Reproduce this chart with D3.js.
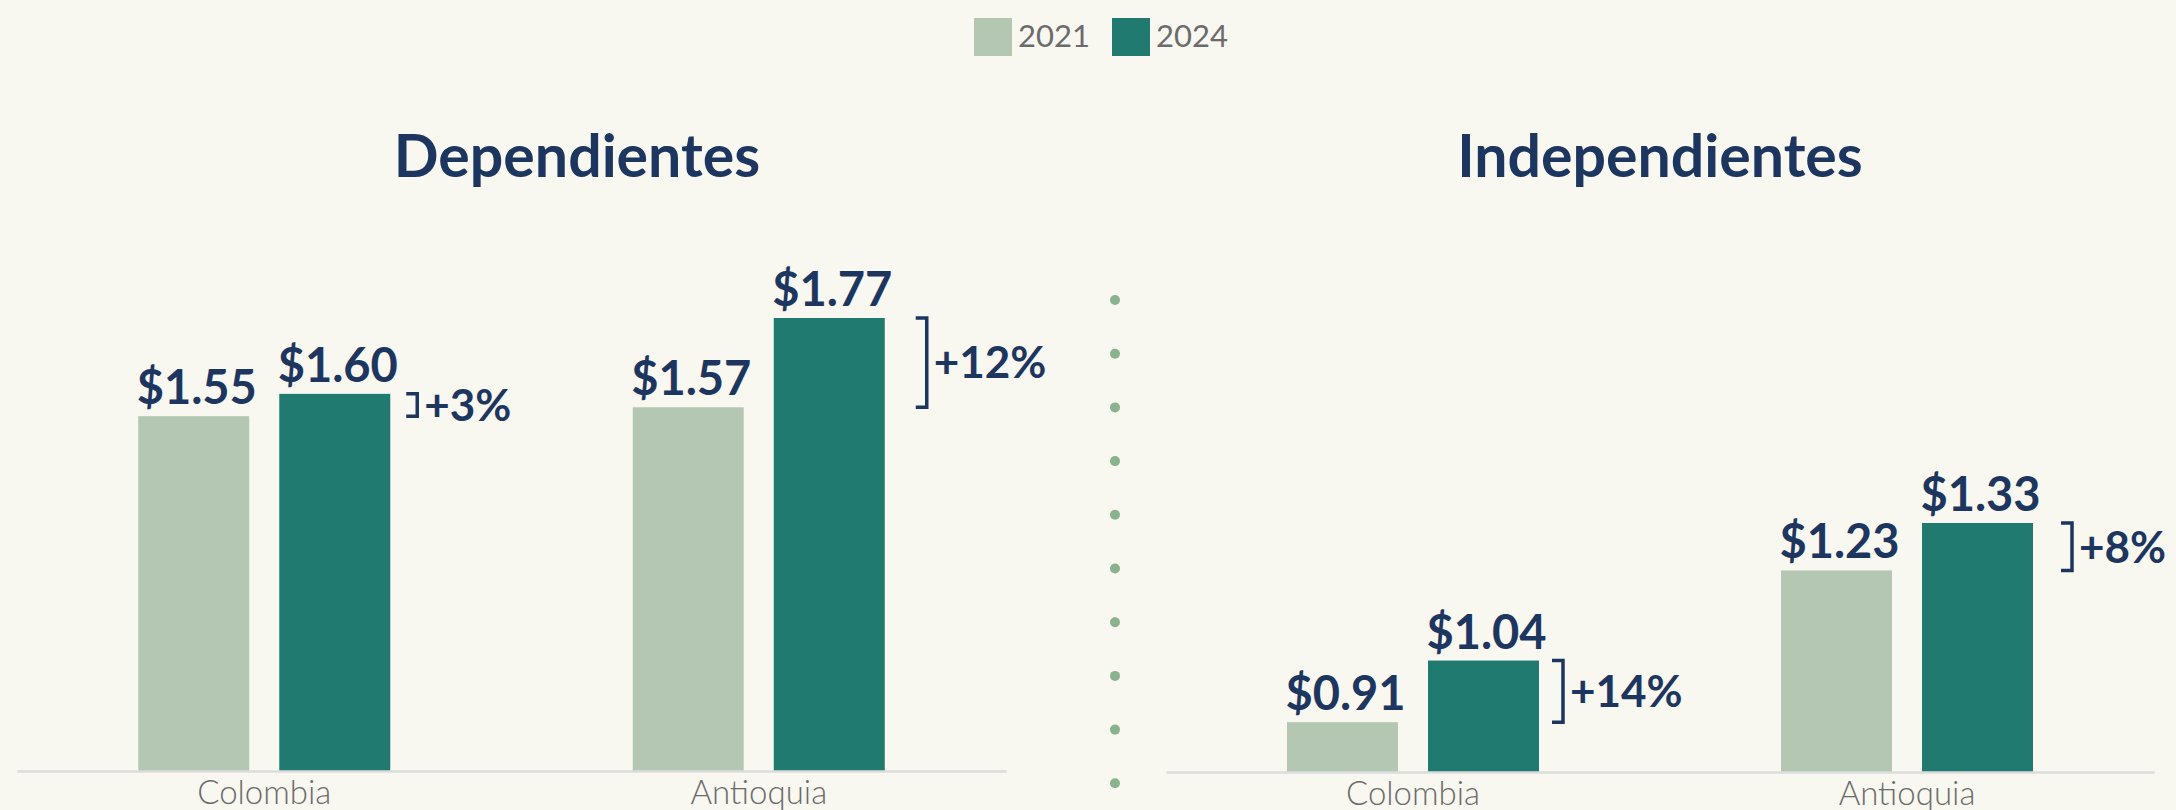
<!DOCTYPE html>
<meta charset="utf-8">
<script src="https://d3js.org/d3.v7.min.js"></script>
<style>
  body { margin: 0; background: #f8f7f0; }
  svg { display: block; font-family: Lato, "Open Sans", sans-serif; }
  .axis path { stroke: #dcdcdc; stroke-width: 2.5px; }
  .axis text { font-size: 33px; font-weight: 300; fill: #6b6b6b; font-family: Lato, sans-serif; }
</style>
<body>
<div id="chart"></div>
<script>

// data
var categories = ["Colombia", "Antioquia"];
var years = ["2021", "2024"];
var panelTitles = ["Dependientes", "Independientes"];
var dep2021 = [1.55, 1.57];
var dep2024 = [1.60, 1.77];
var ind2021 = [0.91, 1.23];
var ind2024 = [1.04, 1.33];
var depChange = ["+3%", "+12%"];
var indChange = ["+14%", "+8%"];

var colors = { "2021": "#b4c7b3", "2024": "#207a70" };
var navy = "#1d3660";

var width = 2176, height = 810;

var svg = d3.select("#chart")
  .append("svg")
    .attr("width", width)
    .attr("height", height);

svg.append("rect")
  .attr("width", width)
  .attr("height", height)
  .attr("fill", "#f8f7f0");

// legend
var legend = svg.append("g");
var legendX = [974, 1112];
years.forEach(function(yr, i) {
  legend.append("rect")
    .attr("x", legendX[i]).attr("y", 18)
    .attr("width", 38).attr("height", 38)
    .attr("fill", colors[yr]);
  legend.append("text")
    .attr("x", legendX[i] + 44).attr("y", 47)
    .style("font-size", "31px")
    .style("fill", "#6b6b6b")
    .text(yr);
});

// panel layout
var panels = [
  { title: panelTitles[0], titleX: 577, v21: dep2021, v24: dep2024, change: depChange,
    xRange: [17, 1006], base: 771, domain: [0.755, 1.77], top: 318, gaps: [16, 31] },
  { title: panelTitles[1], titleX: 1660, v21: ind2021, v24: ind2024, change: indChange,
    xRange: [1166, 2154], base: 772, domain: [0.805, 1.33], top: 523, gaps: [13, 28] }
];

panels.forEach(function(p) {
  var g = svg.append("g");

  var x0 = d3.scaleBand()
    .domain(categories)
    .range(p.xRange)
    .padding(0);

  var x1 = d3.scaleBand()
    .domain(years)
    .range([0, 252])
    .paddingInner(0.213);

  var y = d3.scaleLinear()
    .domain(p.domain)
    .range([p.base, p.top]);

  g.append("text")
    .attr("x", p.titleX).attr("y", 177)
    .attr("text-anchor", "middle")
    .style("font-size", "59px")
    .style("font-weight", "700")
    .style("fill", navy)
    .text(p.title);

  var rows = categories.map(function(c, i) {
    return { cat: c, v21: p.v21[i], v24: p.v24[i], change: p.change[i], gap: p.gaps[i] };
  });

  var groups = g.selectAll(".grp")
    .data(rows)
    .enter()
    .append("g")
      .attr("transform", function(d) {
        return "translate(" + (x0(d.cat) + x0.bandwidth() / 2 - 126) + ",0)";
      });

  groups.selectAll("rect")
    .data(function(d) { return [{ yr: "2021", v: d.v21 }, { yr: "2024", v: d.v24 }]; })
    .enter()
    .append("rect")
      .attr("x", function(d) { return x1(d.yr); })
      .attr("y", function(d) { return y(d.v); })
      .attr("width", x1.bandwidth())
      .attr("height", function(d) { return p.base - y(d.v); })
      .attr("fill", function(d) { return colors[d.yr]; });

  groups.selectAll(".val")
    .data(function(d) { return [{ yr: "2021", v: d.v21 }, { yr: "2024", v: d.v24 }]; })
    .enter()
    .append("text")
      .attr("x", function(d) { return x1(d.yr) + x1.bandwidth() / 2 + 3; })
      .attr("y", function(d) { return y(d.v) - 12; })
      .attr("text-anchor", "middle")
      .style("font-size", "47px")
      .style("font-weight", "700")
      .style("fill", navy)
      .text(function(d) { return "$" + d.v.toFixed(2); });

  // bracket showing the change
  groups.each(function(d) {
    var gg = d3.select(this);
    var bx = x1("2024") + x1.bandwidth() + d.gap;
    var t = y(d.v24), b = y(d.v21);
    gg.append("path")
      .attr("d", "M" + bx + "," + t + "H" + (bx + 11) + "V" + b + "H" + bx)
      .attr("fill", "none")
      .attr("stroke", navy)
      .attr("stroke-width", 3.5);
    gg.append("text")
      .attr("x", bx + 18)
      .attr("y", (t + b) / 2)
      .attr("dy", "0.36em")
      .style("font-size", "44px")
      .style("font-weight", "700")
      .style("fill", navy)
      .text(d.change);
  });

  g.append("g")
    .attr("class", "axis")
    .attr("transform", "translate(0," + p.base + ")")
    .call(d3.axisBottom(x0).tickSize(0).tickPadding(10))
    .call(function(a) { a.select(".domain").attr("stroke", "#dcdcdc"); });
});

// dotted divider
svg.append("g")
  .selectAll("circle")
  .data(d3.range(10))
  .enter()
  .append("circle")
    .attr("cx", 1115)
    .attr("cy", function(i) { return 300 + i * 53.7; })
    .attr("r", 5)
    .attr("fill", "#89b38c");

</script>
</body>
